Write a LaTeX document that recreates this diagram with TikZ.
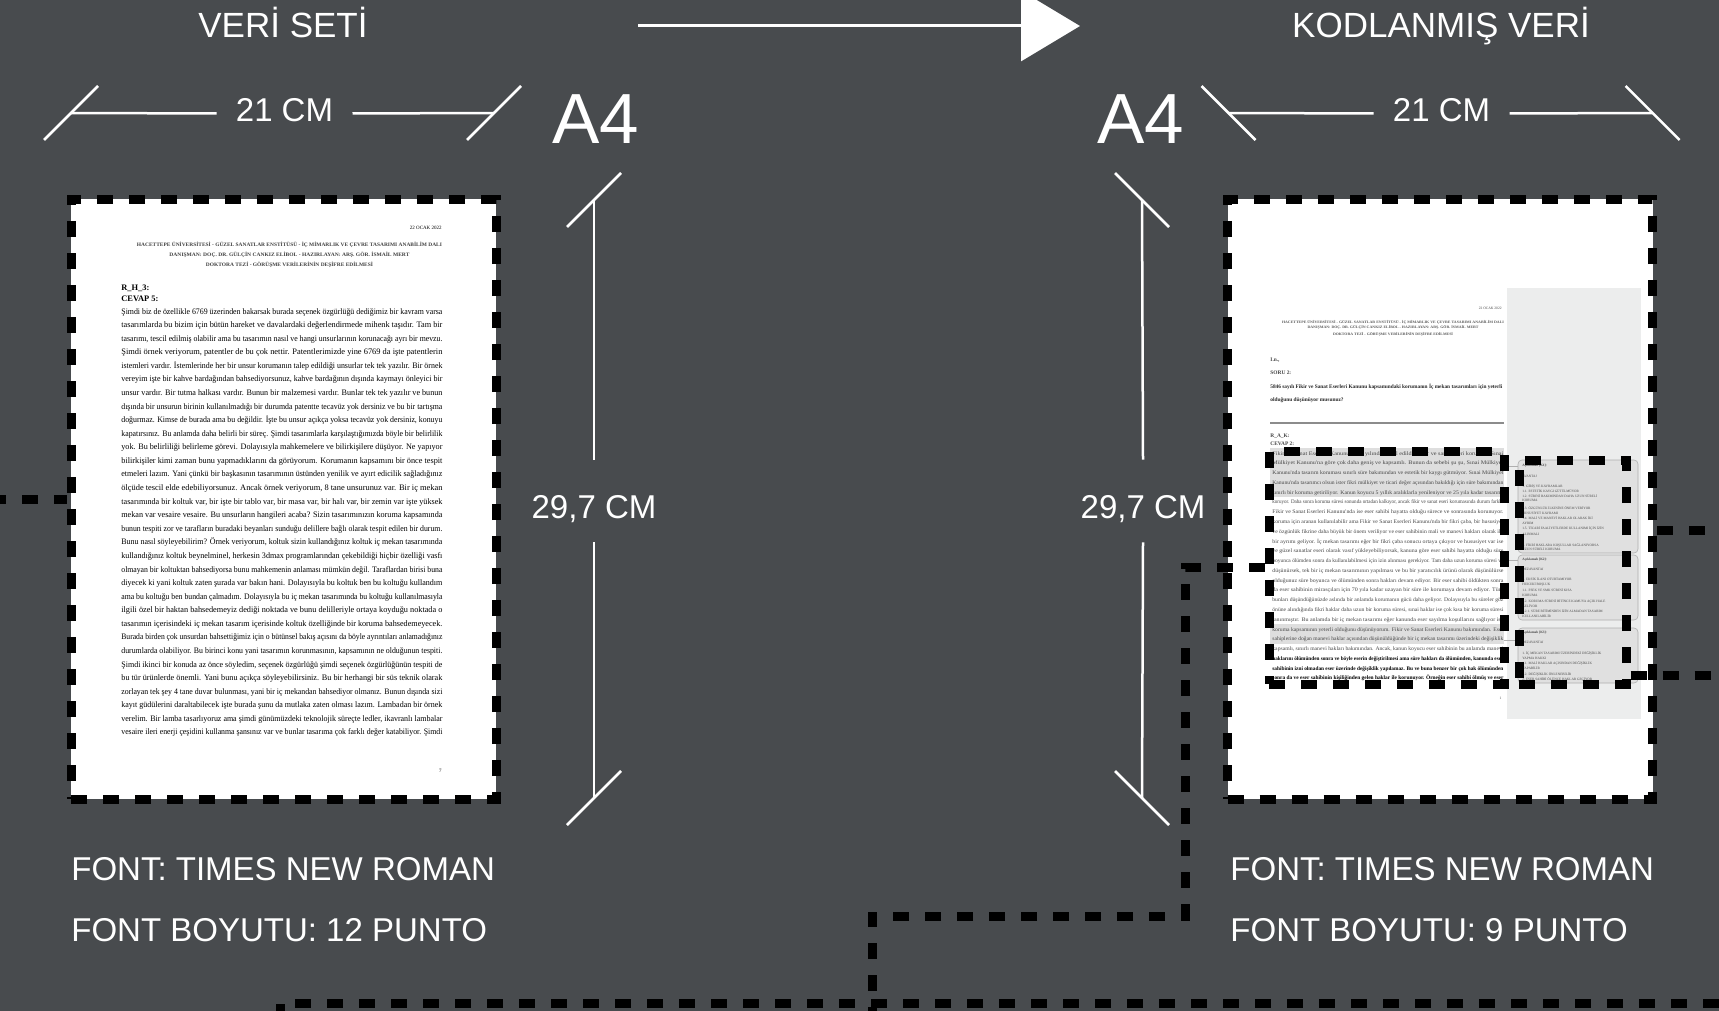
\documentclass[tikz,border=0pt]{standalone}
\usepackage{fontspec}
\usepackage{graphicx}
\setmainfont{Liberation Sans}
\newfontfamily\belge{Liberation Serif}
\usetikzlibrary{arrows.meta,positioning}
\definecolor{zemin}{RGB}{72,75,78}
\definecolor{panel}{RGB}{236,237,237}
\definecolor{vurgu}{RGB}{222,222,222}
\definecolor{yorumgri}{RGB}{224,224,224}
\definecolor{cizgigri}{RGB}{175,175,175}
\definecolor{yazigri}{RGB}{70,70,70}
\tikzset{
  sayfa/.style={fill=white, minimum width=212.5pt, minimum height=300pt, inner sep=0pt},
  kesik/.style={draw=black, line width=4.5pt, dash pattern=on 8pt off 8pt},
  kutu/.style={kesik, inner sep=0pt},
  olcu/.style={draw=white, line width=1.25pt},
  baslik/.style={text=white, anchor=base, inner sep=0pt, font=\fontsize{17.5pt}{20pt}\selectfont},
  bilgi/.style={text=white, anchor=base west, inner sep=0pt, font=\fontsize{16.5pt}{20pt}\selectfont},
  boyut/.style={text=white, anchor=base, inner sep=0pt, font=\fontsize{35.5pt}{40pt}\selectfont},
  yatayolcu/.style={text=white, anchor=base, inner xsep=9.5pt, inner ysep=0pt, text depth=3pt, font=\fontsize{16.5pt}{20pt}\selectfont},
  dikeyolcu/.style={text=white, anchor=base, inner xsep=0pt, inner ysep=12pt, text height=17pt, text depth=0pt, font=\fontsize{16.5pt}{20pt}\selectfont},
  lsatir/.style={anchor=base west, inner sep=0pt, text=black, font=\belge\fontsize{4.2pt}{5pt}\selectfont},
  lbas/.style={anchor=base, inner sep=0pt, text=black!75, font=\belge\bfseries\fontsize{2.6pt}{3pt}\selectfont},
  rsatir/.style={anchor=base west, inner sep=0pt, text=yazigri, font=\belge\fontsize{2.7pt}{3pt}\selectfont},
  rbas/.style={anchor=base, inner sep=0pt, text=black!65, font=\belge\bfseries\fontsize{1.8pt}{2pt}\selectfont},
  ysatir/.style={anchor=base west, inner sep=0pt, text=yazigri, font=\belge\fontsize{1.7pt}{2pt}\selectfont},
  yorumkutu/.style={fill=yorumgri, draw=cizgigri, line width=0.3pt, rounded corners=2pt, inner sep=0pt}
}
\begin{document}
\begin{tikzpicture}[x=0.5pt, y=-0.5pt]
\path[use as bounding box, fill=zemin] (0,0) rectangle (1719,1011);
\clip (0,0) rectangle (1719,1011);

\node[sayfa, kesik] (sol) at (283.5,499) {};
\node[sayfa, kesik] (sag) at (1440,499) {};

\node[lsatir, anchor=base east, font=\belge\fontsize{2.5pt}{3pt}\selectfont] (soltarih) at (442,229) {22 OCAK 2022};
\node[lbas] (solust1) at (289.5,246) {\resizebox{152.5pt}{\height}{HACETTEPE ÜNİVERSİTESİ - GÜZEL SANATLAR ENSTİTÜSÜ - İÇ MİMARLIK VE ÇEVRE TASARIMI ANABİLİM DALI}};
\node[lbas] (solust2) at (289.5,256) {\resizebox{120pt}{\height}{DANIŞMAN: DOÇ. DR. GÜLÇİN CANKIZ ELİBOL - HAZIRLAYAN: ARŞ. GÖR. İSMAİL MERT}};
\node[lbas] (solust3) at (289.5,266) {\resizebox{83.5pt}{\height}{DOKTORA TEZİ - GÖRÜŞME VERİLERİNİN DEŞİFRE EDİLMESİ}};
\node[lsatir, font=\belge\bfseries\fontsize{4.2pt}{5pt}\selectfont] (solkod) at (121,290) {R\_H\_3:};
\node[lsatir, font=\belge\bfseries\fontsize{4.2pt}{5pt}\selectfont] (solcevap) at (121,301) {CEVAP 5:};
\foreach \t [count=\i] in {
  {Şimdi biz de özellikle 6769 üzerinden bakarsak burada seçenek özgürlüğü dediğimiz bir kavram varsa},
  {tasarımlarda bu bizim için bütün hareket ve davalardaki değerlendirmede mihenk taşıdır. Tam bir},
  {tasarımı, tescil edilmiş olabilir ama bu tasarımın nasıl ve hangi unsurlarının korunacağı ayrı bir mevzu.},
  {Şimdi örnek veriyorum, patentler de bu çok nettir. Patentlerimizde yine 6769 da işte patentlerin},
  {istemleri vardır. İstemlerinde her bir unsur korumanın talep edildiği unsurlar tek tek yazılır. Bir örnek},
  {vereyim işte bir kahve bardağından bahsediyorsunuz, kahve bardağının dışında kaymayı önleyici bir},
  {unsur vardır. Bir tutma halkası vardır. Bunun bir malzemesi vardır. Bunlar tek tek yazılır ve bunun},
  {dışında bir unsurun birinin kullanılmadığı bir durumda patentte tecavüz yok dersiniz ve bu bir tartışma},
  {doğurmaz. Kimse de burada ama bu değildir. İşte bu unsur açıkça yoksa tecavüz yok dersiniz, konuyu},
  {kapatırsınız. Bu anlamda daha belirli bir süreç. Şimdi tasarımlarla karşılaştığımızda böyle bir belirlilik},
  {yok. Bu belirliliği belirleme görevi. Dolayısıyla mahkemelere ve bilirkişilere düşüyor. Ne yapıyor},
  {bilirkişiler kimi zaman bunu yapmadıklarını da görüyorum. Korumanın kapsamını bir önce tespit},
  {etmeleri lazım. Yani çünkü bir başkasının tasarımının üstünden yenilik ve ayırt edicilik sağladığınız},
  {ölçüde tescil elde edebiliyorsunuz. Ancak örnek veriyorum, 8 tane unsurunuz var. Bir iç mekan},
  {tasarımında bir koltuk var, bir işte bir tablo var, bir masa var, bir halı var, bir zemin var işte yüksek},
  {mekan var vesaire vesaire. Bu unsurların hangileri acaba? Sizin tasarımınızın koruma kapsamında},
  {bunun tespiti zor ve tarafların buradaki beyanları sunduğu delillere bağlı olarak tespit edilen bir durum.},
  {Bunu nasıl söyleyebilirim? Örnek veriyorum, koltuk sizin kullandığınız koltuk iç mekan tasarımında},
  {kullandığınız koltuk beynelminel, herkesin 3dmax programlarından çekebildiği hiçbir özelliği vasfı},
  {olmayan bir koltuktan bahsediyorsa bunu mahkemenin anlaması mümkün değil. Taraflardan birisi buna},
  {diyecek ki yani koltuk zaten şurada var bakın hani. Dolayısıyla bu koltuk ben bu koltuğu kullandım},
  {ama bu koltuğu ben bundan çalmadım. Dolayısıyla bu iç mekan tasarımında bu koltuğu kullanılmasıyla},
  {ilgili özel bir haktan bahsedemeyiz dediği noktada ve bunu delilleriyle ortaya koyduğu noktada o},
  {tasarımın içerisindeki iç mekan tasarım içerisinde koltuk özelliğinde bir koruma bahsedemeyecek.},
  {Burada birden çok unsurdan bahsettiğimiz için o bütünsel bakış açısını da böyle ayrıntıları anlamadığınız},
  {durumlarda olabiliyor. Bu birinci konu yani tasarımın korunmasının, kapsamının ne olduğunun tespiti.},
  {Şimdi ikinci bir konuda az önce söyledim, seçenek özgürlüğü şimdi seçenek özgürlüğünün tespiti de},
  {bu tür ürünlerde önemli. Yani bunu açıkça söyleyebilirsiniz. Bu bir herhangi bir süs teknik olarak},
  {zorlayan tek şey 4 tane duvar bulunması, yani bir iç mekandan bahsediyor olmanız. Bunun dışında sizi},
  {kayıt güdülerini daraltabilecek işte burada şunu da mutlaka zaten olması lazım. Lambadan bir örnek},
  {verelim. Bir lamba tasarlıyoruz ama şimdi günümüzdeki teknolojik süreçte ledler, ikavranlı lambalar},
  {vesaire ileri enerji çeşidini kullanma şansınız var ve bunlar tasarıma çok farklı değer katabiliyor. Şimdi}}
  \node[lsatir] (ls\i) at (121,{314+13.58*(\i-1)}) {\resizebox{160.5pt}{\height}{\t}};
\node[lsatir, anchor=base east, font=\belge\fontsize{2.5pt}{3pt}\selectfont] (solno) at (442,772) {7};

\fill[panel] (1507,288) rectangle (1641,719);
\node[rsatir, anchor=base east, font=\belge\fontsize{1.8pt}{2pt}\selectfont] (sagtarih) at (1502,309) {22 OCAK 2022};
\node[rbas] (sagust1) at (1393,323) {\resizebox{111pt}{\height}{HACETTEPE ÜNİVERSİTESİ - GÜZEL SANATLAR ENSTİTÜSÜ - İÇ MİMARLIK VE ÇEVRE TASARIMI ANABİLİM DALI}};
\node[rbas] (sagust2) at (1393,328) {\resizebox{85.5pt}{\height}{DANIŞMAN: DOÇ. DR. GÜLÇİN CANKIZ ELİBOL - HAZIRLAYAN: ARŞ. GÖR. İSMAİL MERT}};
\node[rbas] (sagust3) at (1393,335) {\resizebox{60pt}{\height}{DOKTORA TEZİ - GÖRÜŞME VERİLERİNİN DEŞİFRE EDİLMESİ}};
\node[rsatir, font=\belge\bfseries\fontsize{2.7pt}{3pt}\selectfont] (sagkod0) at (1270,361) {I.n.,};
\node[rsatir, font=\belge\bfseries\fontsize{2.7pt}{3pt}\selectfont] (sagsoru) at (1270,374) {SORU 2:};
\node[rsatir, text=black!85, font=\belge\bfseries\fontsize{2.7pt}{3pt}\selectfont] (soru1) at (1270,388) {\resizebox{116pt}{\height}{5846 sayılı Fikir ve Sanat Eserleri Kanunu kapsamındaki korumanın İç mekan tasarımları için yeterli}};
\node[rsatir, text=black!85, font=\belge\bfseries\fontsize{2.7pt}{3pt}\selectfont] (soru2) at (1270,401) {olduğunu düşünüyor musunuz?};
\draw[black!45, line width=0.7pt] (1270,423) -- (1504,423);
\node[rsatir, font=\belge\bfseries\fontsize{2.7pt}{3pt}\selectfont] (sagkod) at (1270,437) {R\_A\_K:};
\node[rsatir, font=\belge\bfseries\fontsize{2.7pt}{3pt}\selectfont] (sagcevap) at (1270,445) {CEVAP 2:};
\fill[vurgu] (1270,448) rectangle (1504,497);
\fill[vurgu] (1270,624) rectangle (1504,644);
\foreach \t [count=\i] in {
  {Fikir ve Sanat Eserleri Kanunu 1951 yılında kabul edildi. Fikir ve sanat eseri koruması Sınai},
  {Mülkiyet Kanunu'na göre çok daha geniş ve kapsamlı. Bunun da sebebi şu şu, Sınai Mülkiyet},
  {Kanunu'nda tasarım koruması sınırlı süre bakımından ve estetik bir kaygı gütmüyor. Sınai Mülkiyet},
  {Kanunu'nda tasarımcı olsun ister fikri mülkiyet ve ticari değer açısından bakıldığı için süre bakımından},
  {sınırlı bir koruma getiriliyor. Kanun koyucu 5 yıllık aralıklarla yenileniyor ve 25 yıla kadar tasarımı},
  {koruyor. Daha sonra koruma süresi sonunda ortadan kalkıyor, ancak fikir ve sanat eseri korumasında durum farklı.},
  {Fikir ve Sanat Eserleri Kanunu'nda ise eser sahibi hayatta olduğu sürece ve sonrasında korunuyor.},
  {koruma için aranan kullanılabilir ama Fikir ve Sanat Eserleri Kanunu'nda bir fikri çaba, bir hususiyet},
  {ve özgünlük fikrine daha büyük bir önem veriliyor ve eser sahibinin mali ve manevi hakları olarak iki},
  {bir ayrımı geliyor. İç mekan tasarımı eğer bir fikri çaba sonucu ortaya çıkıyor ve hususiyet var ise},
  {ve güzel sanatlar eseri olarak vasıf yükleyebiliyorsak, kanuna göre eser sahibi hayatta olduğu süre},
  {boyunca ölümden sonra da kullanılabilmesi için izin alınması gerekiyor. Tam daha uzun koruma süresi ve},
  {düşünürsek, tek bir iç mekan tasarımının yapılması ve bu bir yaratıcılık ürünü olarak düşünülürse},
  {olduğunuz süre boyunca ve ölümünden sonra hakları devam ediyor. Bir eser sahibi öldükten sonra},
  {da eser sahibinin mirasçıları için 70 yıla kadar uzayan bir süre ile korumaya devam ediyor. Tüm},
  {bunları düşündüğünüzde aslında bir anlamda korumanın gücü daha geliyor. Dolayısıyla bu süreler göz},
  {önüne alındığında fikri haklar daha uzun bir koruma süresi, sınai haklar ise çok kısa bir koruma süresi},
  {tanınmıştır. Bu anlamda bir iç mekan tasarımı eğer kanunda eser sayılma koşullarını sağlıyor ise},
  {koruma kapsamının yeterli olduğunu düşünüyorum. Fikir ve Sanat Eserleri Kanunu bakımından. Eser},
  {sahiplerine doğan manevi haklar açısından düşünüldüğünde bir iç mekan tasarımı üzerindeki değişiklik},
  {kapsamlı, sınırlı manevi hakları bakımından. Ancak, kanun koyucu eser sahibinin bu anlamda manevi}}
  \node[rsatir] (rs\i) at (1272,{455+9.78*(\i-1)}) {\resizebox{115.5pt}{\height}{\t}};
\foreach \t [count=\i from 22] in {
  {haklarını ölümünden sonra ve böyle eserin değiştirilmesi ama süre hakları da ölümünden, kanunda eser},
  {sahibinin izni olmadan eser üzerinde değişiklik yapılamaz. Bu ve buna benzer bir çok hak ölümünden},
  {sonra da ve eser sahibinin kişiliğinden gelen haklar ile korunuyor. Örneğin eser sahibi ölmüş ve eser}}
  \node[rsatir, text=black, font=\belge\bfseries\fontsize{2.7pt}{3pt}\selectfont] (rs\i) at (1272,{455+9.78*(\i-1)}) {\resizebox{115.5pt}{\height}{\t}};
\node[rsatir, anchor=base east, font=\belge\fontsize{1.8pt}{2pt}\selectfont] (sagno) at (1502,699) {1};

\node[yorumkutu, minimum width=60pt, minimum height=46.5pt] (yorum1) at (1578,506.5) {};
\node[yorumkutu, minimum width=60pt, minimum height=32.5pt] (yorum2) at (1578,587.5) {};
\node[yorumkutu, minimum width=60pt, minimum height=27.5pt] (yorum3) at (1578,655.5) {};
\draw[cizgigri, line width=0.3pt] (1504,466) -- (yorum1.west |- 0,466);
\draw[cizgigri, line width=0.3pt] (1504,560) -- (yorum2.west |- 0,560);
\draw[cizgigri, line width=0.3pt] (1504,640) -- (yorum3.west |- 0,640);
\foreach \y/\t in {466/{\textbf{Açıklamalı [K1]:}}, 477/AVANTAJ, 487/{1. GİRİŞ VE KAVRAMLAR}, 492/{1.1. ESTETİK KAYGI GÜTÜLMÜYOR}, 497/{1.2. SÜRESİ BAKIMINDAN DAHA UZUN SÜRELİ}, 501/KORUMA, 509/{1.3. ÖZGÜNLÜK İLKESİNE ÖNEM VERİYOR}, 514/{HUSUSİYET KAVRAMI}, 519/{1.4. MALİ VE MANEVİ HAKLAR OLARAK İKİ}, 524/AYRIM, 529/{1.5. TİCARİ FAALİYETLERDE KULLANIMI İÇİN İZİN}, 535/ALINMALI, 546/{2. FİKRİ HAKLARA KOŞULLAR SAĞLANIYORSA}, 550/{UZUN SÜRELİ KORUMA},
  560/{\textbf{Açıklamalı [K2]:}}, 570/DEZAVANTAJ, 580/{1. EKSİK İLANI OTURTAMIYOR}, 585/{HUKUKİ BOŞLUK}, 591/{1.1. FSEK VE SMK SÜRESİ KISA}, 596/KORUMA, 602/{1.2. KORUMA SÜRESİ BİTİNCE KAMUYA AÇIK HALE}, 607/GELİYOR, 612/{1.2.1. SÜRE BİTİMİNDEN İZİN ALMADAN TASARIM}, 617/KULLANILABİLİR,
  633/{\textbf{Açıklamalı [K3]:}}, 643/DEZAVANTAJ, 654/{1. İÇ MEKAN TASARIMI ÜZERİNDEKİ DEĞİŞİKLİK}, 659/{YAPMA HAKKI}, 664/{1.1. MALİ HAKLAR AÇISINDAN DEĞİŞİKLİK}, 669/YAPABİLİR, 675/{1.2. DEĞİŞİKLİK ÖNLENEBİLİR}, 680/{2. ESER SAHİBİ ÖLÜNCE HAKLAR GEÇİYOR}}
  \node[ysatir] at (1522,\y) {\t};

\node[kutu, minimum width=117.5pt, minimum height=116.5pt] (metin) at (1386.5,567.5) {};
\node[kutu, minimum width=53.5pt, minimum height=112pt] (yorum) at (1572.5,572) {};

\coordinate (solkenar) at (-10,499);
\coordinate (sagkenar1) at (1730,530);
\coordinate (sagkenar2) at (1730,675);
\coordinate (dirsek) at (1185,916);
\coordinate (altuc) at (872,1020);
\coordinate (alt1) at (280,1020);
\coordinate (alt2) at (1730,1003);
\draw[kesik] (solkenar) -- (sol.west);
\draw[kesik] (sag.east |- sagkenar1) -- (sagkenar1);
\draw[kesik] (yorum.east |- sagkenar2) -- (sagkenar2);
\draw[kesik] (metin.west) -| (dirsek) -| (altuc);
\draw[kesik] (alt1) |- (alt2);

\node[baslik] (veriseti) at (283,38) {VERİ SETİ};
\node[baslik] (kodlanmis) at (1441,38) {KODLANMIŞ VERİ};
\coordinate (okbas) at (638,26);
\coordinate (okuc) at (1080,26);
\draw[white, line width=1.5pt, -{Triangle[length=29.5pt,width=35pt]}] (okbas) -- (okuc);

\coordinate (sg1) at (71,113);
\coordinate (sg2) at (494,113);
\node[yatayolcu] (solgen) at (284.5,122) {21 CM};
\draw[olcu] (sg1) -- (solgen.west);
\draw[olcu] (solgen.east) -- (sg2);
\draw[olcu] (sg1) ++(-27,27) -- ++(54,-54);
\draw[olcu] (sg2) ++(-27,27) -- ++(54,-54);

\coordinate (rg1) at (1228.5,113);
\coordinate (rg2) at (1652.5,113);
\node[yatayolcu] (saggen) at (1441.5,122) {21 CM};
\draw[olcu] (rg1) -- (saggen.west);
\draw[olcu] (saggen.east) -- (rg2);
\draw[olcu] (rg1) ++(-27,-27) -- ++(54,54);
\draw[olcu] (rg2) ++(-27,-27) -- ++(54,54);

\node[boyut] (sola4) at (596,144) {A4};
\node[boyut] (saga4) at (1141,144) {A4};

\coordinate (sy1) at (594,200);
\coordinate (sy2) at (594,798);
\node[dikeyolcu] (solyuk) at (594,518) {29,7 CM};
\draw[olcu] (sy1) -- (solyuk.north);
\draw[olcu] (solyuk.south) -- (sy2);
\draw[olcu] (sy1) ++(-27,27) -- ++(54,-54);
\draw[olcu] (sy2) ++(-27,27) -- ++(54,-54);

\coordinate (ry1) at (1142,200);
\coordinate (ry2) at (1142,798);
\node[dikeyolcu] (sagyuk) at (1143,518) {29,7 CM};
\draw[olcu] (ry1) -- (sagyuk.north);
\draw[olcu] (sagyuk.south) -- (ry2);
\draw[olcu] (ry1) ++(-27,-27) -- ++(54,54);
\draw[olcu] (ry2) ++(-27,-27) -- ++(54,54);

\node[bilgi] (solfont) at (71,880) {FONT: TIMES NEW ROMAN};
\node[bilgi] (solboyut) at (71,941) {FONT BOYUTU: 12 PUNTO};
\node[bilgi] (sagfont) at (1230,880) {FONT: TIMES NEW ROMAN};
\node[bilgi] (sagboyut) at (1230,941) {FONT BOYUTU: 9 PUNTO};
\end{tikzpicture}
\end{document}
